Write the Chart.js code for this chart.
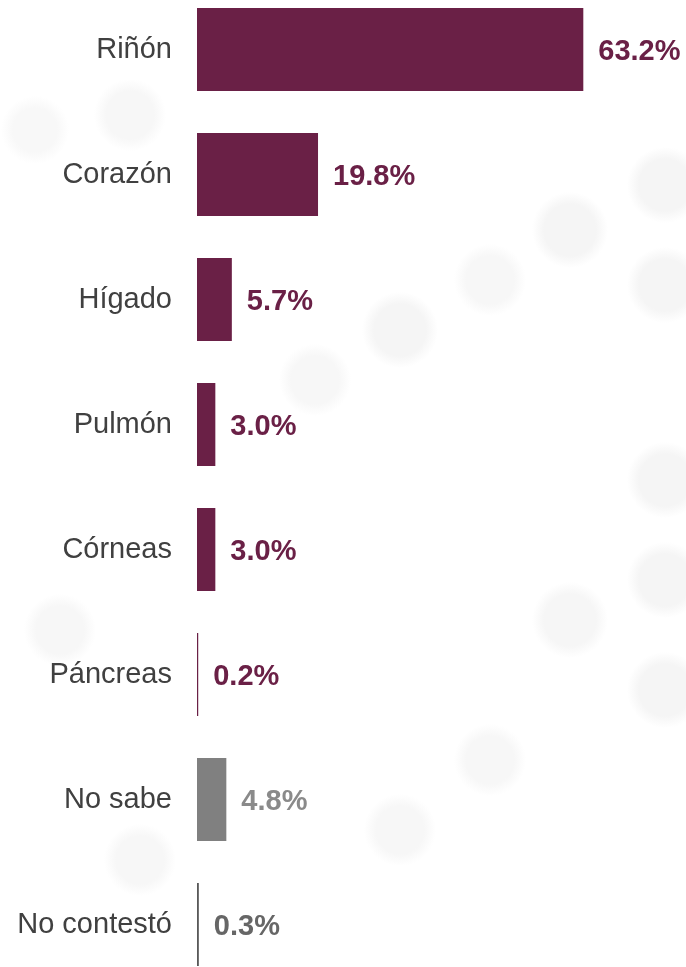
<!DOCTYPE html>
<html>
<head>
<meta charset="utf-8">
<script src="https://cdn.jsdelivr.net/npm/chart.js@4.4.1/dist/chart.umd.min.js"></script>
<style>
  html, body { margin: 0; padding: 0; width: 686px; height: 967px; overflow: hidden; background: #ffffff; }
  body {
    background-image:
      radial-gradient(circle at 570px 230px, #f5f5f5 0, #f5f5f5 26px, rgba(255,255,255,0) 38px),
      radial-gradient(circle at 665px 185px, #f5f5f5 0, #f5f5f5 26px, rgba(255,255,255,0) 38px),
      radial-gradient(circle at 400px 330px, #f5f5f5 0, #f5f5f5 26px, rgba(255,255,255,0) 38px),
      radial-gradient(circle at 665px 285px, #f5f5f5 0, #f5f5f5 26px, rgba(255,255,255,0) 38px),
      radial-gradient(circle at 490px 280px, #f7f7f7 0, #f7f7f7 24px, rgba(255,255,255,0) 36px),
      radial-gradient(circle at 315px 380px, #f7f7f7 0, #f7f7f7 24px, rgba(255,255,255,0) 36px),
      radial-gradient(circle at 665px 480px, #f5f5f5 0, #f5f5f5 26px, rgba(255,255,255,0) 38px),
      radial-gradient(circle at 570px 620px, #f6f6f6 0, #f6f6f6 26px, rgba(255,255,255,0) 38px),
      radial-gradient(circle at 665px 580px, #f5f5f5 0, #f5f5f5 26px, rgba(255,255,255,0) 38px),
      radial-gradient(circle at 665px 690px, #f5f5f5 0, #f5f5f5 26px, rgba(255,255,255,0) 38px),
      radial-gradient(circle at 490px 760px, #f7f7f7 0, #f7f7f7 24px, rgba(255,255,255,0) 36px),
      radial-gradient(circle at 400px 830px, #f7f7f7 0, #f7f7f7 24px, rgba(255,255,255,0) 36px),
      radial-gradient(circle at 130px 115px, #f7f7f7 0, #f7f7f7 24px, rgba(255,255,255,0) 36px),
      radial-gradient(circle at 35px 130px, #f8f8f8 0, #f8f8f8 22px, rgba(255,255,255,0) 34px),
      radial-gradient(circle at 60px 630px, #f7f7f7 0, #f7f7f7 24px, rgba(255,255,255,0) 36px),
      radial-gradient(circle at 140px 860px, #f7f7f7 0, #f7f7f7 24px, rgba(255,255,255,0) 36px);
  }
  #wrap { position: absolute; left: 0; top: -13px; width: 686px; height: 1000px; }
</style>
</head>
<body>
<div id="wrap"><canvas id="c"></canvas></div>
<script>
const categories = ["Riñón", "Corazón", "Hígado", "Pulmón", "Córneas", "Páncreas", "No sabe", "No contestó"];
const values = [63.2, 19.8, 5.7, 3.0, 3.0, 0.2, 4.8, 0.3];
const valueLabels = ["63.2%", "19.8%", "5.7%", "3.0%", "3.0%", "0.2%", "4.8%", "0.3%"];
const barColors = ["#6a2046", "#6a2046", "#6a2046", "#6a2046", "#6a2046", "#6a2046", "#808080", "#595959"];
const labelColors = ["#6a2046", "#6a2046", "#6a2046", "#6a2046", "#6a2046", "#6a2046", "#8a8a8a", "#666666"];

const valueLabelPlugin = {
  id: 'valueLabels',
  afterDatasetsDraw(chart) {
    const ctx = chart.ctx;
    const meta = chart.getDatasetMeta(0);
    ctx.save();
    ctx.font = 'bold 29px "Liberation Sans", Arial, sans-serif';
    ctx.textAlign = 'left';
    ctx.textBaseline = 'middle';
    meta.data.forEach((bar, i) => {
      ctx.fillStyle = labelColors[i];
      ctx.fillText(valueLabels[i], bar.x + 15, bar.y + 2);
    });
    ctx.restore();
  }
};

new Chart(document.getElementById('c'), {
  type: 'bar',
  data: {
    labels: categories,
    datasets: [{
      data: values,
      backgroundColor: barColors,
      borderWidth: 0,
      categoryPercentage: 1.0,
      barPercentage: 0.664
    }]
  },
  options: {
    indexAxis: 'y',
    responsive: true,
    maintainAspectRatio: false,
    animation: false,
    layout: { padding: 0 },
    plugins: { legend: { display: false }, tooltip: { enabled: false } },
    scales: {
      x: { display: false, min: 0, max: 80 },
      y: {
        grid: { display: false, drawTicks: false },
        border: { display: false },
        ticks: {
          color: '#404040',
          padding: 25,
          font: { family: '"Liberation Sans", Arial, sans-serif', size: 29 }
        },
        afterFit(scale) {
          scale.width = 197;
          scale.paddingTop = 0;
          scale.paddingBottom = 0;
        }
      }
    }
  },
  plugins: [valueLabelPlugin]
});
</script>
</body>
</html>
